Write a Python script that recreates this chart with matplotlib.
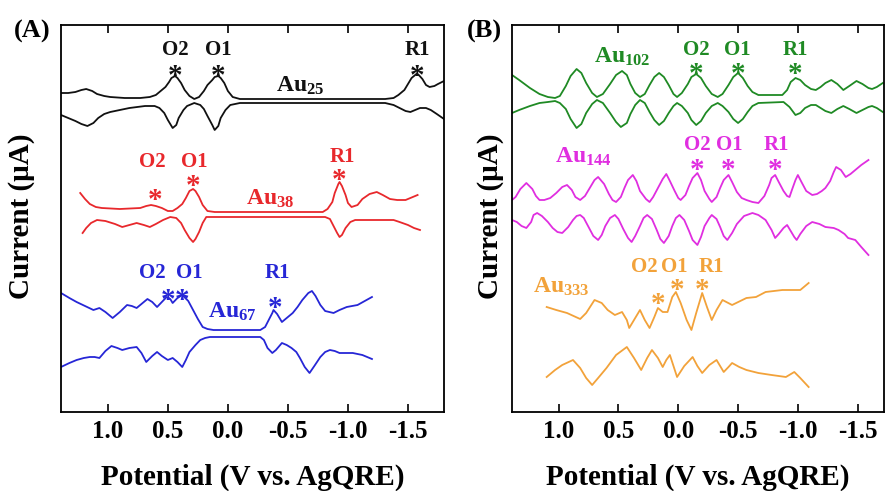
import matplotlib
matplotlib.use("Agg")
import matplotlib.pyplot as plt

# fonts: Times-like bold everywhere, subscripts via mathtext
plt.rcParams['font.family'] = ['Liberation Serif', 'DejaVu Serif']
plt.rcParams['font.weight'] = 'bold'
plt.rcParams['axes.labelweight'] = 'bold'
plt.rcParams['mathtext.fontset'] = 'custom'
plt.rcParams['mathtext.rm'] = 'Liberation Serif:bold'
plt.rcParams['mathtext.it'] = 'Liberation Serif:bold'
plt.rcParams['mathtext.bf'] = 'Liberation Serif:bold'

# ---- panel A data (potential V, current a.u., curves offset stacked) ----
au25_up_v = [1.39, 1.33, 1.27, 1.22, 1.18, 1.13, 1.09, 1.03, 0.98, 0.86, 0.73, 0.65, 0.60, 0.56, 0.52, 0.49,
             0.47, 0.44, 0.42, 0.39, 0.36, 0.32, 0.28, 0.24, 0.20, 0.17, 0.13, 0.11, 0.08, 0.06, 0.03, 0.00,
             -0.04, -0.10, -0.14, -1.31, -1.38, -1.42, -1.47, -1.50, -1.53, -1.57, -1.59, -1.62, -1.65,
             -1.68, -1.72, -1.75, -1.80]
au25_up_i = [31.9, 31.9, 32.0, 32.2, 32.3, 32.1, 31.8, 31.6, 31.5, 31.4, 31.4, 31.5, 31.7, 32.1, 32.5, 33.0,
             33.4, 33.6, 33.4, 32.9, 32.2, 31.6, 31.3, 31.5, 32.1, 32.7, 33.2, 33.5, 33.6, 33.4, 32.9, 32.1,
             31.5, 31.3, 31.3, 31.3, 31.4, 31.7, 32.2, 32.8, 33.4, 33.8, 33.7, 33.3, 32.7,
             32.5, 32.6, 32.8, 33.1]
au25_dn_v = [1.39, 1.33, 1.27, 1.22, 1.17, 1.12, 1.08, 1.03, 0.98, 0.90, 0.82, 0.69, 0.61, 0.57, 0.53, 0.50,
             0.47, 0.46, 0.43, 0.41, 0.37, 0.34, 0.28, 0.23, 0.20, 0.17, 0.13, 0.11, 0.08, 0.06, 0.02, -0.02,
             -0.10, -1.31, -1.38, -1.43, -1.48, -1.52, -1.56, -1.60, -1.65, -1.69, -1.74, -1.80]
au25_dn_i = [29.7, 29.4, 29.1, 28.8, 28.6, 28.9, 29.4, 29.8, 30.0, 30.2, 30.4, 30.6, 30.6, 30.4, 29.9, 29.2,
             28.6, 28.4, 28.7, 29.4, 30.2, 30.6, 30.9, 30.7, 30.3, 29.6, 28.7, 28.2, 28.6, 29.4, 30.2, 30.7,
             30.9, 30.9, 30.7, 30.4, 30.1, 30.0, 30.2, 30.4, 30.4, 30.2, 29.8, 29.3]

au38_up_v = [1.23, 1.19, 1.15, 1.10, 1.05, 0.90, 0.73, 0.68, 0.64, 0.60, 0.55, 0.50, 0.46, 0.42, 0.38, 0.35,
             0.32, 0.29, 0.27, 0.24, 0.21, 0.17, 0.11, -0.79, -0.83, -0.87, -0.89, -0.92, -0.93, -0.95, -0.98,
             -1.00, -1.03, -1.08, -1.12, -1.18, -1.24, -1.29, -1.35, -1.41, -1.48, -1.52, -1.58]
au38_up_i = [21.9, 21.3, 20.8, 20.5, 20.4, 20.3, 20.4, 20.6, 20.7, 20.6, 20.4, 20.1, 20.1, 20.4, 20.8, 21.4,
             22.1, 22.3, 22.1, 21.5, 20.7, 20.1, 20.0, 20.0, 20.3, 21.0, 21.9, 22.8, 23.0, 22.6, 21.7,
             20.9, 20.5, 20.7, 21.3, 21.8, 22.0, 21.7, 21.3, 21.2, 21.2, 21.4, 21.7]
au38_dn_v = [1.21, 1.18, 1.14, 1.09, 1.02, 0.94, 0.88, 0.82, 0.76, 0.70, 0.65, 0.60, 0.54, 0.48, 0.43, 0.39,
             0.36, 0.32, 0.29, 0.27, 0.24, 0.21, 0.18, 0.11, -0.81, -0.85, -0.88, -0.91, -0.93, -0.95, -0.98,
             -1.02, -1.06, -1.38, -1.43, -1.50, -1.55, -1.60]
au38_dn_i = [17.9, 18.4, 18.9, 19.2, 19.1, 18.8, 18.5, 18.7, 18.9, 18.7, 18.5, 18.8, 19.2, 19.5, 19.4, 18.9,
             18.2, 17.4, 17.0, 17.3, 18.0, 18.9, 19.5, 19.5, 19.5, 19.3, 18.6, 17.9, 17.5, 17.7, 18.4,
             19.0, 19.2, 19.2, 19.0, 18.7, 18.4, 18.2]

au67_up_v = [1.39, 1.32, 1.26, 1.19, 1.12, 1.07, 1.02, 0.96, 0.90, 0.84, 0.80, 0.76, 0.72, 0.67, 0.63, 0.59,
             0.55, 0.51, 0.48, 0.46, 0.42, 0.38, 0.33, 0.29, 0.25, 0.21, 0.17, 0.12, -0.27, -0.31, -0.34,
             -0.37, -0.38, -0.41, -0.45, -0.49, -0.54, -0.58, -0.62, -0.67, -0.70, -0.73, -0.77, -0.81,
             -0.88, -0.93, -0.99, -1.08, -1.14, -1.20]
au67_up_i = [11.9, 11.4, 11.0, 10.6, 10.2, 10.4, 10.0, 9.4, 10.0, 10.7, 10.6, 10.4, 10.8, 11.3, 11.0, 10.5,
             11.0, 11.5, 11.3, 10.9, 11.4, 11.7, 11.1, 10.2, 9.3, 8.5, 8.3, 8.2, 8.2, 8.5, 9.2,
             9.9, 10.2, 9.8, 9.0, 9.4, 9.9, 10.5, 11.2, 11.9, 12.1, 11.6, 10.7, 10.1,
             9.9, 10.2, 10.5, 10.7, 11.1, 11.5]
au67_dn_v = [1.39, 1.32, 1.26, 1.20, 1.15, 1.11, 1.07, 1.02, 0.97, 0.92, 0.88, 0.82, 0.76, 0.72, 0.68, 0.63,
             0.59, 0.55, 0.50, 0.46, 0.42, 0.38, 0.35, 0.32, 0.27, 0.23, 0.19, 0.15, -0.27, -0.30, -0.33,
             -0.37, -0.40, -0.45, -0.49, -0.53, -0.57, -0.60, -0.64, -0.68, -0.72, -0.77, -0.81, -0.85,
             -0.89, -0.93, -1.04, -1.12, -1.20]
au67_dn_i = [4.5, 4.9, 5.2, 5.4, 5.5, 5.5, 5.4, 6.1, 6.6, 6.4, 6.2, 6.4, 6.5, 5.9, 5.0, 5.6,
             6.0, 5.6, 5.2, 5.4, 5.0, 4.5, 5.2, 6.0, 6.7, 7.2, 7.4, 7.5, 7.5, 7.2, 6.4,
             5.9, 6.2, 6.9, 6.7, 6.4, 6.0, 5.4, 4.5, 3.9, 4.6, 5.5, 6.0, 6.2,
             6.1, 5.9, 5.9, 5.7, 5.3]

# ---- panel B data ----
au102_up_v = [1.39, 1.33, 1.24, 1.16, 1.09, 1.03, 0.99, 0.94, 0.90, 0.85, 0.81, 0.77, 0.72, 0.68, 0.63, 0.57,
              0.52, 0.47, 0.43, 0.40, 0.36, 0.32, 0.28, 0.24, 0.20, 0.16, 0.12, 0.08, 0.04, 0.01, -0.03,
              -0.08, -0.11, -0.15, -0.19, -0.23, -0.28, -0.33, -0.37, -0.42, -0.46, -0.50, -0.54, -0.58,
              -0.62, -0.67, -0.87, -0.91, -0.94, -0.98, -1.02, -1.06, -1.11, -1.15, -1.19, -1.23, -1.28,
              -1.33, -1.38, -1.43, -1.49, -1.54, -1.59, -1.62, -1.66, -1.71]
au102_up_i = [33.7, 33.2, 32.4, 31.8, 31.5, 31.4, 31.6, 32.6, 33.6, 34.3, 33.9, 32.9, 31.9, 31.5, 31.8, 32.8,
              33.7, 34.1, 33.7, 32.8, 31.9, 31.5, 31.8, 32.7, 33.5, 33.9, 33.5, 32.7, 31.8, 31.5, 31.9,
              32.8, 33.5, 33.8, 33.4, 32.6, 31.8, 31.5, 31.8, 32.7, 33.5, 33.9, 33.4, 32.6,
              32.0, 31.7, 31.7, 32.2, 33.0, 33.4, 33.2, 32.7, 32.3, 32.2, 32.5, 32.9, 33.2,
              32.8, 32.2, 32.6, 33.1, 32.8, 32.4, 32.3, 32.5, 32.9]
au102_dn_v = [1.39, 1.33, 1.24, 1.16, 1.09, 1.03, 0.99, 0.94, 0.90, 0.85, 0.81, 0.77, 0.72, 0.68, 0.63, 0.57,
              0.52, 0.48, 0.43, 0.40, 0.36, 0.32, 0.28, 0.24, 0.20, 0.16, 0.12, 0.08, 0.04, 0.01, -0.03,
              -0.08, -0.11, -0.15, -0.19, -0.23, -0.28, -0.33, -0.37, -0.42, -0.46, -0.50, -0.54, -0.58,
              -0.62, -0.67, -0.88, -0.93, -0.98, -1.02, -1.06, -1.11, -1.15, -1.19, -1.23, -1.28,
              -1.33, -1.38, -1.43, -1.49, -1.54, -1.59, -1.62, -1.66, -1.71]
au102_dn_i = [29.9, 30.2, 30.6, 30.9, 31.0, 31.1, 30.9, 30.3, 29.3, 28.4, 28.8, 29.9, 30.8, 31.2, 30.9, 29.9,
              29.0, 28.5, 28.9, 29.8, 30.7, 31.2, 30.9, 30.0, 29.2, 28.7, 29.1, 29.9, 30.6, 30.9, 30.6,
              29.9, 29.2, 28.7, 29.1, 29.9, 30.6, 30.9, 30.6, 30.0, 29.3, 28.9, 29.3, 30.0,
              30.6, 30.9, 31.0, 30.5, 29.7, 29.9, 30.4, 30.7, 30.7, 30.4, 30.1, 29.9,
              30.3, 30.6, 30.3, 29.9, 30.2, 30.5, 30.6, 30.4, 30.0]

au144_up_v = [1.39, 1.36, 1.32, 1.27, 1.22, 1.19, 1.16, 1.12, 1.07, 1.02, 0.97, 0.93, 0.89, 0.86, 0.82, 0.78,
              0.74, 0.70, 0.67, 0.62, 0.58, 0.55, 0.52, 0.48, 0.45, 0.42, 0.38, 0.35, 0.32, 0.27, 0.24,
              0.21, 0.17, 0.13, 0.10, 0.07, 0.03, 0.00, -0.02, -0.06, -0.09, -0.12, -0.16, -0.19, -0.22,
              -0.26, -0.28, -0.32, -0.35, -0.38, -0.42, -0.45, -0.49, -0.53, -0.57, -0.62, -0.67, -0.72,
              -0.76, -0.78, -0.81, -0.84, -0.88, -0.91, -0.93, -0.95, -0.98, -1.00, -1.03, -1.07, -1.12,
              -1.16, -1.20, -1.23, -1.27, -1.30, -1.32, -1.36, -1.40, -1.44, -1.48, -1.53, -1.59]
au144_up_i = [21.2, 21.5, 22.3, 22.9, 22.3, 21.6, 21.2, 21.2, 21.4, 21.9, 22.5, 22.7, 22.2, 21.5, 21.2, 21.6,
              22.4, 23.2, 23.5, 22.8, 21.8, 21.2, 21.0, 21.5, 22.4, 23.2, 23.7, 23.1, 22.1, 21.3, 21.0,
              21.5, 22.4, 23.3, 23.8, 23.1, 22.1, 21.4, 21.2, 21.7, 22.6, 23.4, 23.9, 23.2, 22.1,
              21.3, 21.0, 21.5, 22.4, 23.2, 23.7, 23.0, 22.0, 21.4, 21.2, 21.0, 20.9, 21.6,
              22.7, 23.4, 23.7, 23.0, 22.1, 21.6, 21.5, 22.2, 23.2, 23.7, 23.0, 22.1, 21.7,
              21.8, 22.1, 22.4, 23.1, 24.0, 24.5, 24.2, 23.5, 23.8, 24.2, 24.7, 25.2]
au144_dn_v = [1.39, 1.35, 1.31, 1.27, 1.23, 1.21, 1.18, 1.14, 1.09, 1.05, 1.01, 0.97, 0.92, 0.88, 0.85, 0.82,
              0.79, 0.75, 0.71, 0.67, 0.64, 0.61, 0.57, 0.53, 0.50, 0.46, 0.42, 0.39, 0.36, 0.32, 0.29,
              0.26, 0.22, 0.18, 0.15, 0.12, 0.08, 0.05, 0.02, -0.01, -0.05, -0.09, -0.12, -0.16, -0.19,
              -0.22, -0.26, -0.28, -0.32, -0.35, -0.38, -0.41, -0.45, -0.49, -0.55, -0.62, -0.67, -0.73,
              -0.78, -0.81, -0.84, -0.88, -0.91, -0.94, -0.97, -0.99, -1.02, -1.07, -1.12, -1.18, -1.23,
              -1.30, -1.34, -1.39, -1.42, -1.48, -1.53, -1.59]
au144_dn_i = [19.2, 19.0, 18.6, 18.4, 19.0, 19.7, 19.9, 19.6, 19.0, 18.4, 18.0, 17.9, 18.5, 19.2, 19.6, 19.7,
              19.4, 18.5, 17.6, 17.2, 17.7, 18.6, 19.4, 19.7, 19.3, 18.3, 17.4, 17.0, 17.6, 18.6, 19.4,
              19.7, 19.3, 18.2, 17.3, 16.9, 17.6, 18.6, 19.4, 19.7, 19.2, 18.1, 17.2, 16.7, 17.5,
              18.6, 19.4, 19.7, 19.3, 18.5, 17.6, 17.2, 17.9, 18.8, 19.6, 19.9, 19.7, 19.2,
              18.2, 17.4, 17.8, 18.4, 18.7, 18.1, 17.5, 17.2, 17.8, 18.6, 19.0, 18.8, 18.5,
              18.4, 18.2, 17.8, 17.4, 17.2, 16.5, 15.7]

au333_up_v = [1.10, 1.02, 0.93, 0.82, 0.77, 0.70, 0.64, 0.59, 0.53, 0.47, 0.43, 0.41, 0.37, 0.32, 0.28, 0.24,
              0.20, 0.17, 0.13, 0.09, 0.05, 0.02, -0.02, -0.07, -0.11, -0.15, -0.20, -0.24, -0.28, -0.32,
              -0.37, -0.45, -0.57, -0.65, -0.73, -0.87, -1.02, -1.09]
au333_up_i = [10.5, 10.2, 9.9, 9.3, 9.9, 11.2, 10.9, 10.2, 9.7, 10.0, 9.2, 8.4, 9.2, 10.2, 9.2, 8.4,
              9.5, 10.4, 10.0, 10.0, 11.5, 12.0, 10.9, 9.2, 8.2, 9.9, 11.9, 10.5, 9.2, 10.2,
              11.2, 10.7, 11.4, 11.5, 12.0, 12.2, 12.2, 12.9]
au333_dn_v = [1.10, 1.03, 0.97, 0.88, 0.82, 0.77, 0.72, 0.67, 0.60, 0.52, 0.43, 0.37, 0.31, 0.26, 0.22, 0.17,
              0.13, 0.10, 0.07, 0.04, 0.01, -0.05, -0.12, -0.16, -0.20, -0.26, -0.32, -0.35, -0.38, -0.42,
              -0.45, -0.51, -0.57, -0.67, -0.78, -0.90, -0.97, -1.02, -1.09]
au333_dn_i = [3.5, 4.2, 4.7, 5.2, 4.4, 3.4, 2.7, 3.4, 4.4, 5.7, 6.5, 5.4, 4.2, 5.4, 6.2, 5.4,
              4.5, 5.2, 5.7, 4.6, 3.5, 4.6, 5.5, 4.6, 3.9, 4.7, 5.2, 4.6, 4.0, 4.5,
              4.9, 4.5, 4.2, 3.9, 3.7, 3.5, 4.0, 3.4, 2.5]

# ---- annotations: name label (V, I), peak labels (V, I), asterisks (V, I) ----
au25_name = ('Au$_{25}$', -0.60, 32.0)
au25_peaks = [('O2', 0.44, 36.2), ('O1', 0.08, 36.2), ('R1', -1.58, 36.2)]
au25_stars = [(0.44, 33.5), (0.08, 33.5), (-1.58, 33.5)]
au38_name = ('Au$_{38}$', -0.35, 20.7)
au38_peaks = [('O2', 0.63, 25.0), ('O1', 0.28, 25.0), ('R1', -0.95, 25.5)]
au38_stars = [(0.61, 21.2), (0.29, 22.5), (-0.93, 23.2)]
au67_name = ('Au$_{67}$', -0.04, 9.4)
au67_peaks = [('O2', 0.63, 13.9), ('O1', 0.32, 13.9), ('R1', -0.41, 13.9)]
au67_stars = [(0.50, 11.2), (0.38, 11.2), (-0.39, 10.3)]
au102_name = ('Au$_{102}$', 0.47, 34.9)
au102_peaks = [('O2', -0.15, 36.2), ('O1', -0.49, 36.2), ('R1', -0.98, 36.2)]
au102_stars = [(-0.15, 33.8), (-0.50, 33.8), (-0.98, 33.8)]
au144_name = ('Au$_{144}$', 0.79, 24.9)
au144_peaks = [('O2', -0.16, 26.7), ('O1', -0.43, 26.7), ('R1', -0.82, 26.7)]
au144_stars = [(-0.16, 24.2), (-0.42, 24.2), (-0.81, 24.2)]
au333_name = ('Au$_{333}$', 0.98, 11.9)
au333_peaks = [('O2', 0.28, 14.5), ('O1', 0.03, 14.5), ('R1', -0.28, 14.5)]
au333_stars = [(0.17, 10.7), (0.01, 12.2), (-0.20, 12.2)]

ticks = [1.0, 0.5, 0.0, -0.5, -1.0, -1.5]
tick_labels = ['1.0', '0.5', '0.0', '-0.5', '-1.0', '-1.5']

BLACK = '#111111'
RED = '#e8282c'
BLUE = '#2626d6'
GREEN = '#1f8a24'
MAGENTA = '#e02ee0'
ORANGE = '#f2a23a'


def draw_cluster(ax, color, up_v, up_i, dn_v, dn_i, name, peaks, stars):
    ax.plot(up_v, up_i, color=color, lw=1.3, solid_joinstyle='round')
    ax.plot(dn_v, dn_i, color=color, lw=1.3, solid_joinstyle='round')
    ax.text(name[1], name[2], name[0], color=color, fontsize=17, ha='center', va='baseline')
    for lab, v, i in peaks:
        ax.text(v, i, lab, color=color, fontsize=15, ha='center', va='center')
    for v, i in stars:
        ax.text(v, i, '*', color=color, fontsize=21, ha='center', va='center')


def style_axis(ax, xlim):
    ax.set_xlim(*xlim)
    ax.set_ylim(0, 38.7)
    ax.set_xticks(ticks)
    ax.set_xticklabels(tick_labels)
    ax.set_yticks([])
    ax.tick_params(axis='x', direction='in', length=6, width=1.2, top=True, labelsize=18, pad=6)
    for s in ax.spines.values():
        s.set_linewidth(1.3)
    ax.set_xlabel('Potential (V vs. AgQRE)', fontsize=21, fontweight='bold', labelpad=15)


fig = plt.figure(figsize=(8.86, 4.91), dpi=100)
axA = fig.add_axes([61 / 886, 1 - 412 / 491, (444 - 61) / 886, (412 - 25) / 491])
axB = fig.add_axes([512 / 886, 1 - 412 / 491, (884 - 512) / 886, (412 - 25) / 491])

draw_cluster(axA, BLACK, au25_up_v, au25_up_i, au25_dn_v, au25_dn_i, au25_name, au25_peaks, au25_stars)
draw_cluster(axA, RED, au38_up_v, au38_up_i, au38_dn_v, au38_dn_i, au38_name, au38_peaks, au38_stars)
draw_cluster(axA, BLUE, au67_up_v, au67_up_i, au67_dn_v, au67_dn_i, au67_name, au67_peaks, au67_stars)
draw_cluster(axB, GREEN, au102_up_v, au102_up_i, au102_dn_v, au102_dn_i, au102_name, au102_peaks, au102_stars)
draw_cluster(axB, MAGENTA, au144_up_v, au144_up_i, au144_dn_v, au144_dn_i, au144_name, au144_peaks, au144_stars)
draw_cluster(axB, ORANGE, au333_up_v, au333_up_i, au333_dn_v, au333_dn_i, au333_name, au333_peaks, au333_stars)

style_axis(axA, (1.39, -1.80))
style_axis(axB, (1.39, -1.72))

fig.text(22 / 886, 1 - 216 / 491, 'Current (\u03bcA)', rotation=90, fontsize=21, ha='center', va='center')
fig.text(490 / 886, 1 - 216 / 491, 'Current (\u03bcA)', rotation=90, fontsize=21, ha='center', va='center')
fig.text(32 / 886, 1 - 31 / 491, '(A)', fontsize=19, ha='center', va='center')
fig.text(484 / 886, 1 - 31 / 491, '(B)', fontsize=19, ha='center', va='center')

fig.savefig('out.png', dpi=100)
